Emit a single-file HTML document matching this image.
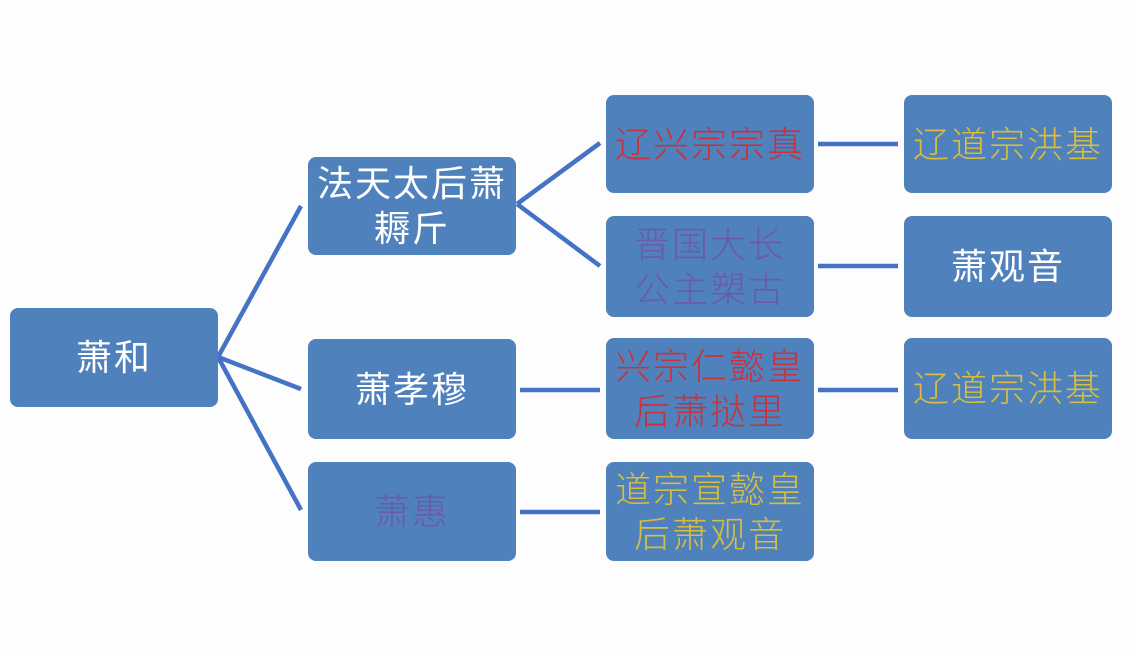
<!DOCTYPE html>
<html><head><meta charset="utf-8"><style>
body{margin:0;width:1136px;height:654px;background:#fdfdfe;position:relative;overflow:hidden;font-family:"Liberation Sans","Noto Sans CJK SC",sans-serif}
.b{position:absolute;background:#4f81bd;border-radius:8px;display:flex;align-items:center;justify-content:center;text-align:center;color:#fff;font-size:36px;line-height:45px;letter-spacing:2px;white-space:nowrap}
.r{color:#c8323a;font-weight:300}.y{color:#d9bd3c;font-weight:300}.p{color:#6c5aa8;font-weight:300}
svg{position:absolute;left:0;top:0}
</style></head><body>
<svg width="1136" height="654"><g stroke="#4472c4" stroke-width="4.5" fill="none">
<line x1="218" y1="357" x2="301" y2="206"/>
<line x1="218" y1="357" x2="301" y2="389"/>
<line x1="218" y1="357" x2="301" y2="510"/>
<line x1="517" y1="204" x2="600" y2="143"/>
<line x1="517" y1="204" x2="600" y2="266"/>
<line x1="520" y1="390" x2="600" y2="390"/>
<line x1="520" y1="512" x2="600" y2="512"/>
<line x1="818" y1="144" x2="898" y2="144"/>
<line x1="818" y1="266" x2="898" y2="266"/>
<line x1="818" y1="390" x2="898" y2="390"/>
</g></svg>
<div class="b" style="left:10px;top:308px;width:208px;height:99px">萧和</div>
<div class="b" style="left:308px;top:157px;width:208px;height:98px">法天太后萧<br>耨斤</div>
<div class="b" style="left:308px;top:339px;width:208px;height:100px">萧孝穆</div>
<div class="b p" style="left:308px;top:462px;width:208px;height:99px">萧惠</div>
<div class="b r" style="left:606px;top:95px;width:208px;height:98px">辽兴宗宗真</div>
<div class="b p" style="left:606px;top:216px;width:208px;height:101px">晋国大长<br>公主槊古</div>
<div class="b r" style="left:606px;top:338px;width:208px;height:101px">兴宗仁懿皇<br>后萧挞里</div>
<div class="b y" style="left:606px;top:462px;width:208px;height:99px">道宗宣懿皇<br>后萧观音</div>
<div class="b y" style="left:904px;top:95px;width:208px;height:98px">辽道宗洪基</div>
<div class="b" style="left:904px;top:216px;width:208px;height:101px">萧观音</div>
<div class="b y" style="left:904px;top:338px;width:208px;height:101px">辽道宗洪基</div>
</body></html>
